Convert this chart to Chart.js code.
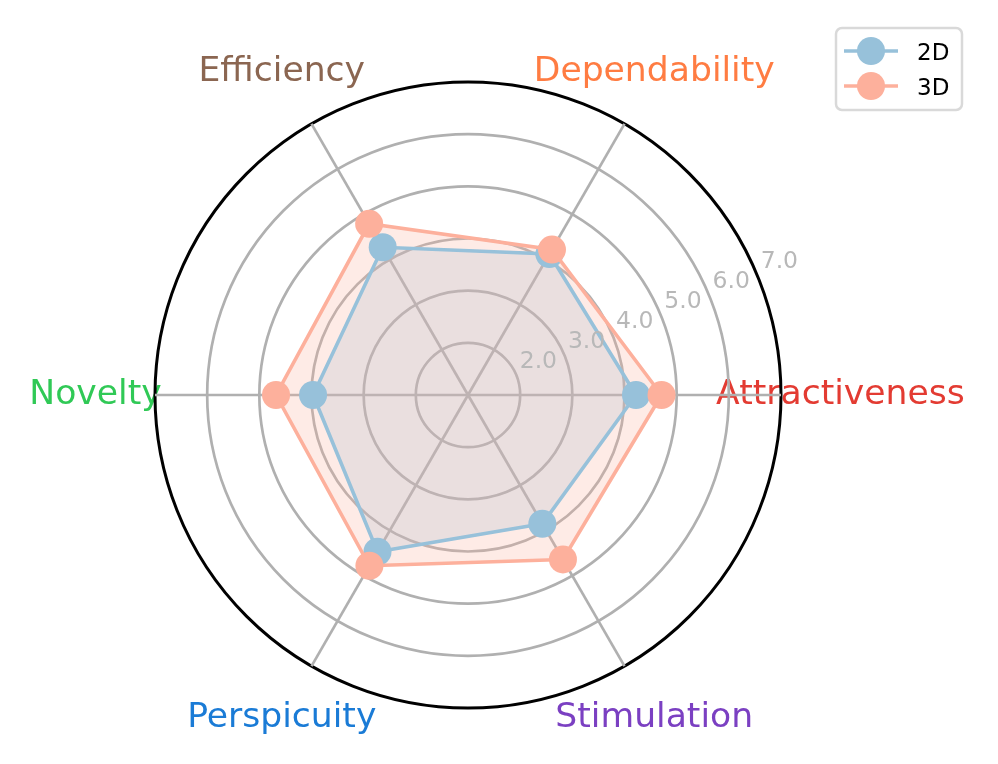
<!DOCTYPE html>
<html>
<head>
<meta charset="utf-8">
<script src="https://cdn.jsdelivr.net/npm/chart.js@4.4.0/dist/chart.umd.min.js"></script>
<style>
  html, body { margin: 0; padding: 0; background: #ffffff; }
  canvas { display: block; }
</style>
</head>
<body>
<canvas id="c" width="998" height="764"></canvas>
<script>
// Categories in the original (counter-clockwise from the right) order
const categories = ['Attractiveness', 'Dependability', 'Efficiency', 'Novelty', 'Perspicuity', 'Stimulation'];
const categoryColors = ['#e33b32', '#ff7c42', '#8b6651', '#30c956', '#1a7bd6', '#7b40c2'];
const values2D = [4.22, 4.12, 4.27, 3.97, 4.47, 3.85];
const values3D = [4.71, 4.22, 4.79, 4.68, 4.78, 4.64];
const seriesNames = ['2D', '3D'];
const tickValues = [2, 3, 4, 5, 6, 7];
const tickLabels = ['2.0', '3.0', '4.0', '5.0', '6.0', '7.0'];

const COLOR_2D = '#97c1da';
const COLOR_3D = '#fdb09c';
const FONT = "'DejaVu Sans', 'Liberation Sans', sans-serif";

// Chart.js goes clockwise, so reverse the order
const labels = categories.slice().reverse();
const data2D = values2D.slice().reverse();
const data3D = values3D.slice().reverse();
const labelColors = categoryColors.slice().reverse();

const decorPlugin = {
  id: 'decor',
  beforeDraw(chart) {
    const s = chart.scales.r;
    const ctx = chart.ctx;
    ctx.save();
    ctx.font = '34.6px ' + FONT;
    ctx.textAlign = 'center';
    ctx.textBaseline = 'alphabetic';
    const d = s.getDistanceFromCenterForValue(7) * 1.19;
    labels.forEach((lab, i) => {
      const p = s.getPointPosition(i, d);
      ctx.fillStyle = labelColors[i];
      ctx.fillText(lab, p.x, p.y + 9);
    });
    ctx.restore();
  },
  afterDatasetsDraw(chart) {
    const s = chart.scales.r;
    const ctx = chart.ctx;
    ctx.save();
    ctx.font = '23.5px ' + FONT;
    ctx.fillStyle = '#b8b8b8';
    ctx.textAlign = 'left';
    ctx.textBaseline = 'alphabetic';
    const a = 22.5 * Math.PI / 180;
    tickValues.forEach((v, i) => {
      const r = s.getDistanceFromCenterForValue(v);
      const x = s.xCenter + r * Math.cos(a);
      const y = s.yCenter - r * Math.sin(a);
      ctx.fillText(tickLabels[i], x + 3.5, y - 7);
    });
    ctx.restore();
  },
  afterDraw(chart) {
    const ctx = chart.ctx;
    ctx.save();
    // legend frame
    ctx.beginPath();
    ctx.roundRect(836, 28, 126, 82, 6);
    ctx.fillStyle = 'rgba(255,255,255,0.8)';
    ctx.fill();
    ctx.lineWidth = 2.5;
    ctx.strokeStyle = '#d9d9d9';
    ctx.stroke();
    const entries = [[COLOR_2D, 51], [COLOR_3D, 86]];
    entries.forEach((e, i) => {
      const [col, y] = e;
      ctx.beginPath();
      ctx.moveTo(844, y);
      ctx.lineTo(898, y);
      ctx.strokeStyle = col;
      ctx.lineWidth = 3.5;
      ctx.stroke();
      ctx.beginPath();
      ctx.arc(871, y, 14, 0, Math.PI * 2);
      ctx.fillStyle = col;
      ctx.fill();
      ctx.fillStyle = '#000000';
      ctx.font = '23px ' + FONT;
      ctx.textAlign = 'left';
      ctx.textBaseline = 'alphabetic';
      ctx.fillText(seriesNames[i], 917, y + 8.5);
    });
    ctx.restore();
  }
};

new Chart(document.getElementById('c'), {
  type: 'radar',
  data: {
    labels: labels,
    datasets: [
      {
        label: seriesNames[0],
        data: data2D,
        borderColor: COLOR_2D,
        backgroundColor: 'rgba(151,193,218,0.25)',
        pointBackgroundColor: COLOR_2D,
        pointBorderColor: COLOR_2D,
        order: 2
      },
      {
        label: seriesNames[1],
        data: data3D,
        borderColor: COLOR_3D,
        backgroundColor: 'rgba(253,176,156,0.25)',
        pointBackgroundColor: COLOR_3D,
        pointBorderColor: COLOR_3D,
        order: 1
      }
    ]
  },
  options: {
    responsive: false,
    devicePixelRatio: 1,
    animation: false,
    layout: { padding: { left: 155, right: 217, top: 82, bottom: 56 } },
    elements: {
      line: { borderWidth: 3.6, tension: 0, fill: true },
      point: { radius: 14, borderWidth: 0, hoverRadius: 14 }
    },
    plugins: {
      legend: { display: false },
      tooltip: { enabled: false },
      filler: { drawTime: 'beforeDatasetsDraw' }
    },
    scales: {
      r: {
        min: 1,
        max: 7,
        startAngle: 150,
        ticks: { display: false, stepSize: 1 },
        pointLabels: { display: false },
        grid: {
          circular: true,
          color: (c) => (c.tick && c.tick.value === 7 ? '#000000' : '#b0b0b0'),
          lineWidth: (c) => (c.tick && c.tick.value === 7 ? 3 : 2.7)
        },
        angleLines: { color: '#b0b0b0', lineWidth: 2.7 }
      }
    }
  },
  plugins: [decorPlugin]
});
</script>
</body>
</html>
